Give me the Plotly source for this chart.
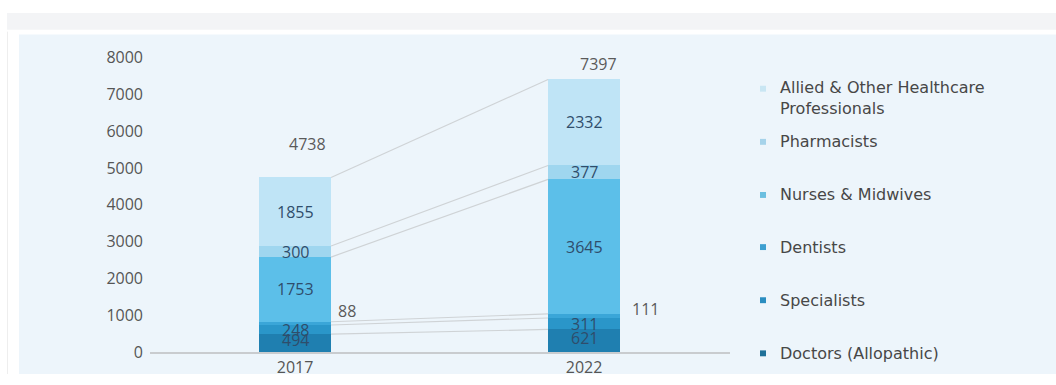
import plotly.graph_objects as go

# ---------------- data ----------------
years = ["2017", "2022"]
categories = ["Doctors (Allopathic)", "Specialists", "Dentists",
              "Nurses & Midwives", "Pharmacists",
              "Allied & Other Healthcare Professionals"]
legend_labels = ["Doctors (Allopathic)", "Specialists", "Dentists",
                 "Nurses & Midwives", "Pharmacists",
                 "Allied & Other Healthcare<br>Professionals"]
values_2017 = [494, 248, 88, 1753, 300, 1855]
values_2022 = [621, 311, 111, 3645, 377, 2332]
totals = [4738, 7397]
y_ticks = [0, 1000, 2000, 3000, 4000, 5000, 6000, 7000, 8000]

colors = ["#1f7fb0", "#2a96c9", "#3aa6d8", "#5cbfe9", "#9fd6ef", "#bfe4f6"]
legend_colors = ["#1f7098", "#2a8dc0", "#3d9fd0", "#6bbfe0", "#a6d3ea", "#c9e6f3"]

W, H = 1056, 385
# the rendered figure occupies screen rows 8..377
TOP, FH = 8, 369
def px(x):
    return x / W
def py(y):
    return 1 - (y - TOP) / FH

xpos = [0, 1]
bar_w = 0.249

fig = go.Figure()

# connector lines between segment tops
cum17, cum22 = 0, 0
for i, cat in enumerate(categories):
    cum17 += values_2017[i]
    cum22 += values_2022[i]
    fig.add_trace(go.Scatter(
        x=[xpos[0] + bar_w / 2, xpos[1] - bar_w / 2], y=[cum17, cum22],
        mode="lines", line=dict(color="#cfd3d6", width=1.2),
        showlegend=False, hoverinfo="skip"))

for i, cat in enumerate(categories):
    fig.add_trace(go.Bar(
        x=xpos, y=[values_2017[i], values_2022[i]], name=cat,
        marker=dict(color=colors[i], line=dict(width=0)),
        width=bar_w, showlegend=False))

# value labels inside segments
label_font = dict(family="Open Sans", size=16, color="#2f4d6b")
outside_font = dict(family="Open Sans", size=16, color="#5a5a5a")
for j, vals in enumerate([values_2017, values_2022]):
    base = 0
    for i, v in enumerate(vals):
        if categories[i] == "Dentists":
            fig.add_annotation(x=xpos[j] + bar_w / 2, y=base + v, text=str(v),
                               showarrow=False, xanchor="left", yanchor="middle",
                               xshift=5 if j == 0 else 10, yshift=11 if j == 0 else 5,
                               font=outside_font)
        else:
            fig.add_annotation(x=xpos[j], y=base + v / 2, text=str(v),
                               showarrow=False, xanchor="center", yanchor="middle",
                               yshift=3 if i == 0 else 0,
                               font=label_font)
        base += v
    fig.add_annotation(x=xpos[j], y=totals[j], text=str(totals[j]),
                       showarrow=False, xanchor="center", yanchor="middle",
                       xshift=12 if j == 0 else 14, yshift=34 if j == 0 else 15,
                       font=outside_font)

# manual legend
legend_y = [356, 302, 248, 195, 141, 96]
for i in range(len(categories)):
    sq_y = legend_y[i] if i < 5 else 87
    fig.add_shape(type="rect", xref="paper", yref="paper",
                  x0=px(760), x1=px(766), y0=py(sq_y + 3), y1=py(sq_y - 3),
                  fillcolor=legend_colors[i], line=dict(width=0))
    fig.add_annotation(xref="paper", yref="paper", x=px(778), y=py(legend_y[i]),
                       text=legend_labels[i], showarrow=False, xanchor="left",
                       yanchor="middle", align="left",
                       font=dict(family="DejaVu Sans", size=16, color="#474747"))

# background panels
fig.add_shape(type="rect", xref="paper", yref="paper", layer="below",
              x0=px(7), x1=1, y0=py(27), y1=py(10),
              fillcolor="#f3f4f6", line=dict(width=0))
fig.add_shape(type="rect", xref="paper", yref="paper", layer="below",
              x0=px(19), x1=1, y0=0, y1=py(32),
              fillcolor="#edf5fb", line=dict(width=0))
fig.add_shape(type="line", xref="paper", yref="paper", layer="below",
              x0=px(7.5), x1=px(7.5), y0=0, y1=py(29),
              line=dict(color="#eeeeee", width=1))

fig.update_layout(
    width=W, height=H,
    margin=dict(l=0, r=0, t=0, b=0),
    paper_bgcolor="#ffffff", plot_bgcolor="rgba(0,0,0,0)",
    barmode="stack", bargap=0,
    showlegend=False,
    xaxis=dict(domain=[px(150), px(730)], range=[-0.502, 1.505],
               tickmode="array", tickvals=xpos, ticktext=years,
               showgrid=False, zeroline=False, showline=True,
               linecolor="#c9cccf", linewidth=1.5, ticks="",
               tickfont=dict(family="Open Sans", size=16, color="#555555")),
    yaxis=dict(domain=[py(355), py(55)], range=[0, 8000],
               tickmode="array", tickvals=y_ticks,
               showgrid=False, zeroline=False, showline=False, ticks="",
               ticklabelstandoff=6,
               tickfont=dict(family="Open Sans", size=16, color="#555555")),
)

fig.write_html(
    "out.html",
    post_script=("document.body.style.background="
                 "'linear-gradient(to right, #ffffff 19px, #edf5fb 19px)';"),
)
